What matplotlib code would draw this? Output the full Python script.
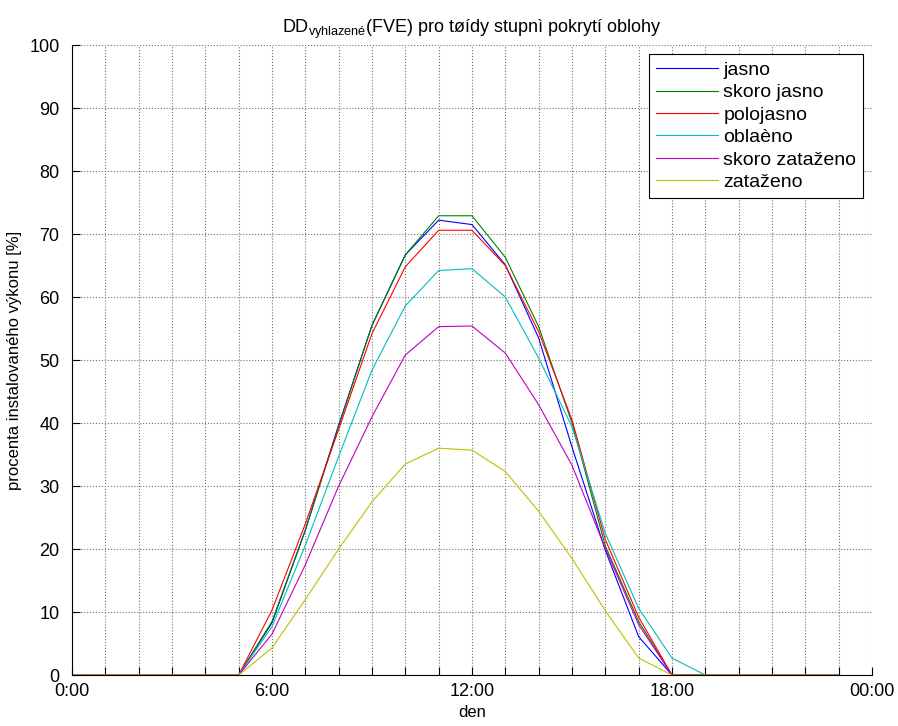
import numpy as np
import matplotlib
matplotlib.use('Agg')
import matplotlib.pyplot as plt

plt.rcParams['font.family'] = ['Liberation Sans', 'DejaVu Sans']

hours = np.arange(24)

# hodnoty, hodiny 0..23
jasno = [0, 0, 0, 0, 0, 0, 8.3, 23, 39.7, 55.5, 66.7, 72.2, 71.5, 65.1, 53.5, 36.2, 19.8, 6.1,
         0, 0, 0, 0, 0, 0]
skoro_jasno = [0, 0, 0, 0, 0, 0, 8.5, 23, 39.5, 55.5, 66.7, 72.9, 72.9, 66.3, 55.3, 40, 20.5, 8.5,
               0, 0, 0, 0, 0, 0]
polojasno = [0, 0, 0, 0, 0, 0, 10.3, 24, 39, 54.2, 64.8, 70.6, 70.6, 65, 54.5, 40.5, 21.5, 9.2,
             0, 0, 0, 0, 0, 0]
oblacno = [0, 0, 0, 0, 0, 0, 7.7, 20.6, 34.7, 48.4, 58.6, 64.2, 64.5, 60, 50.3, 39.4, 22.5, 10.6,
           2.7, 0, 0, 0, 0, 0]
skoro_zatazeno = [0, 0, 0, 0, 0, 0, 6.5, 17.5, 30, 41, 50.8, 55.3, 55.4, 51.1, 42.9, 33.3, 20.1, 8,
                  0, 0, 0, 0, 0, 0]
zatazeno = [0, 0, 0, 0, 0, 0, 4.3, 12, 20, 27.5, 33.5, 36, 35.7, 32.3, 26, 18.5, 10.2, 2.7,
            0, 0, 0, 0, 0, 0]

series = [jasno, skoro_jasno, polojasno, oblacno, skoro_zatazeno, zatazeno]
labels = ['jasno', 'skoro jasno', 'polojasno', 'oblaèno', 'skoro zataženo', 'zataženo']
colors = ['#0000ff', '#008000', '#ff0000', '#00bfbf', '#bf00bf', '#bfbf00']

xtick_pos = [0, 6, 12, 18, 24]
xtick_lab = ['0:00', '6:00', '12:00', '18:00', '00:00']

fig = plt.figure(figsize=(8.98, 7.26), dpi=100)
ax = fig.add_axes([0.0802, 0.0702, 0.8908, 0.8678])

for y, lab, c in zip(series, labels, colors):
    ax.plot(hours, y, color=c, lw=0.8, label=lab)

ax.set_xlim(0, 24)
ax.set_ylim(0, 100)
ax.set_xticks(np.arange(25))
ax.set_xticklabels([xtick_lab[xtick_pos.index(h)] if h in xtick_pos else '' for h in range(25)])
ax.set_yticks(np.arange(0, 101, 10))
ax.tick_params(direction='in', length=6, width=0.8, labelsize=13, colors='k')
ax.tick_params(axis='y', pad=9)
ax.tick_params(axis='x', pad=6)
ax.grid(True, linestyle=':', color='0.45', lw=0.8)

ax.spines['top'].set_visible(False)
ax.spines['right'].set_visible(False)

ax.set_xlabel('den', fontsize=12, labelpad=3)
ax.set_ylabel('procenta instalovaného výkonu [%]', fontsize=12, labelpad=5)
ax.set_title(r'DD$_{\mathregular{vyhlazené}}$(FVE) pro tøídy stupnì pokrytí oblohy', fontsize=13, pad=9)

leg = ax.legend(loc='upper right', bbox_to_anchor=(0.989, 0.985), fontsize=14, fancybox=False,
                framealpha=1, edgecolor='k', handlelength=3.2, handletextpad=0.25,
                borderpad=0.35, labelspacing=0.25, borderaxespad=0)
leg.get_frame().set_linewidth(0.8)

plt.savefig('out.png', dpi=100)
